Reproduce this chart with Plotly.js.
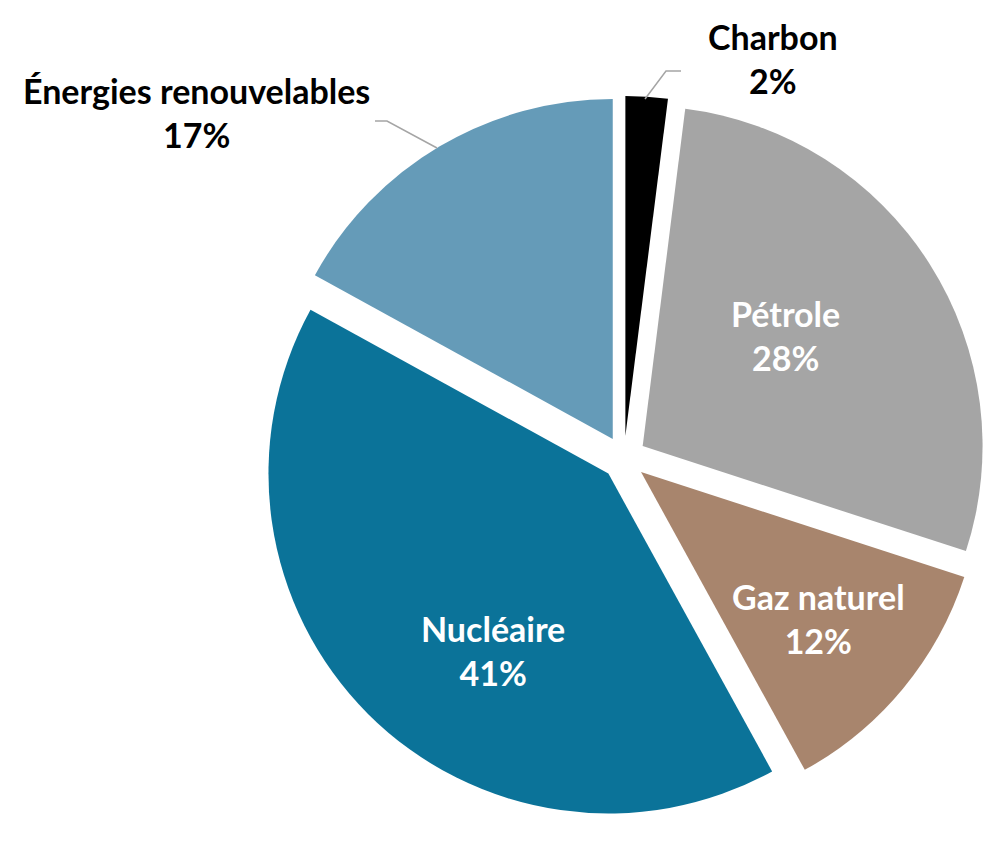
<!DOCTYPE html>
<html>
<head>
<meta charset="utf-8">
<script src="https://cdn.plot.ly/plotly-3.0.1.min.js"></script>
<style>html,body{margin:0;padding:0;background:#fff;}#chart{width:1000px;height:841px;}</style>
</head>
<body>
<div id="chart"></div>
<script>
// Data
const labels = ["Charbon", "Pétrole", "Gaz naturel", "Nucléaire", "Énergies renouvelables"];
const values = [2, 28, 12, 41, 17];
const colors = ["#000000", "#A5A5A5", "#A8856D", "#0B7399", "#659BB8"];
const labelColors = ["#000000", "#ffffff", "#ffffff", "#ffffff", "#000000"];
// label anchor positions (paper fractions)
const labelX = [0.773, 0.785, 0.818, 0.493, 0.196];
const labelY = [1 - 58 / 841, 1 - 335 / 841, 1 - 618 / 841, 1 - 650 / 841, 1 - 112 / 841];

const total = values.reduce((a, b) => a + b, 0);
const pct = values.map(v => Math.round(v / total * 100) + "%");

const FONT = "Lato, 'Open Sans', sans-serif";
const FS = 34;

const trace = {
  type: "pie",
  labels: labels,
  values: values,
  sort: false,
  direction: "clockwise",
  rotation: 0,
  pull: values.map(() => 0.065),
  marker: { colors: colors, line: { width: 0 } },
  textposition: "none",
  hoverinfo: "label+percent",
  showlegend: false,
  domain: { x: [0.262, 0.986], y: [0.025, 0.886] }
};

const annotations = labels.map((lab, i) => ({
  xref: "paper", yref: "paper", x: labelX[i], y: labelY[i],
  xanchor: "center", yanchor: "middle", showarrow: false,
  text: lab + "<br>" + pct[i],
  font: { family: FONT, size: FS, color: labelColors[i], weight: "bold" }
}));

const layout = {
  width: 1000,
  height: 841,
  margin: { l: 0, r: 0, t: 0, b: 0 },
  paper_bgcolor: "#ffffff",
  showlegend: false,
  annotations: annotations,
  shapes: [
    {
      type: "path", xref: "paper", yref: "paper",
      path: "M 0.645," + (1 - 99 / 841) + " L 0.666," + (1 - 71 / 841) + " L 0.681," + (1 - 71 / 841),
      line: { color: "#A5A5A5", width: 1.5 }
    },
    {
      type: "path", xref: "paper", yref: "paper",
      path: "M 0.375," + (1 - 121 / 841) + " L 0.387," + (1 - 121 / 841) + " L 0.437," + (1 - 148 / 841),
      line: { color: "#A5A5A5", width: 1.5 }
    }
  ]
};

Plotly.newPlot("chart", [trace], layout, { displayModeBar: false, staticPlot: true });
</script>
</body>
</html>
